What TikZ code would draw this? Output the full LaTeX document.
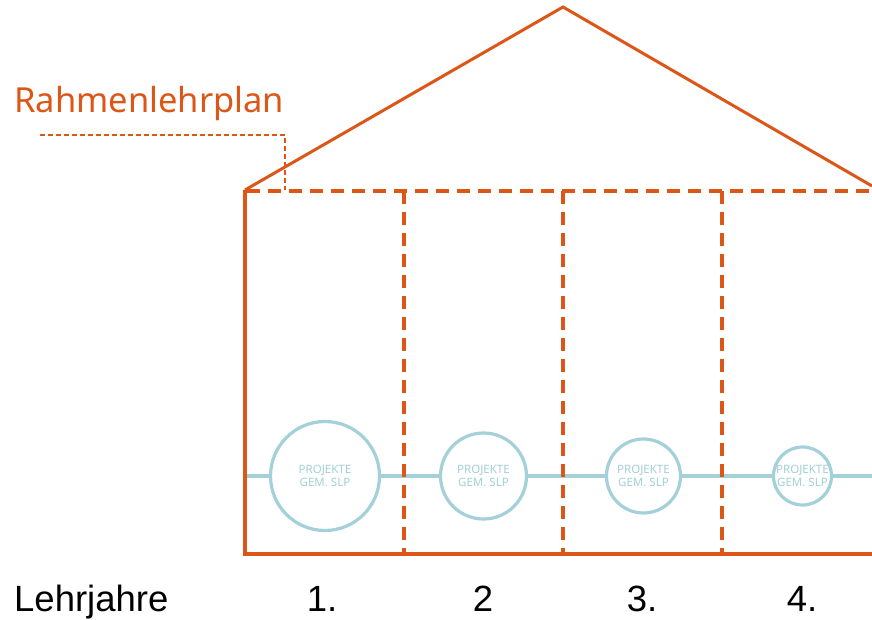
\documentclass[tikz,border=0pt]{standalone}
\usepackage{fontspec}
\setmainfont{Noto Sans}
\newfontfamily\labelfont{Liberation Sans}
\definecolor{houseorange}{HTML}{DC5617}
\definecolor{projblue}{HTML}{A3D0D9}
\begin{document}
\begin{tikzpicture}[x=1pt,y=-1pt,
  wall/.style={draw=houseorange,line width=3.2pt,line cap=butt},
  roofline/.style={draw=houseorange,line width=3pt,line join=miter},
  split/.style={draw=houseorange,line width=3.2pt,dash pattern=on 13pt off 8pt},
  leader/.style={draw=houseorange,line width=1.4pt,dash pattern=on 5pt off 3pt},
  track/.style={draw=projblue,line width=3.2pt},
  project/.style={circle,draw=projblue,line width=3.2pt,fill=white,inner sep=0pt,
    align=center,text=projblue,font=\fontsize{11.5}{13.5}\selectfont},
  year/.style={font=\labelfont\fontsize{36.5}{40}\selectfont,anchor=base}]
\useasboundingbox (0,0) rectangle (872,620);

% roof
\coordinate (eaveL) at (245,190);
\coordinate (apex) at (563,7);
\coordinate (eaveR) at (872,186);
\draw[roofline] (eaveL) -- (apex) -- (eaveR);

% project track with circles
\coordinate (trackL) at (245,476);
\coordinate (trackR) at (872,476);
\node[project,minimum size=109pt] (p1) at (325,476) {PROJEKTE\\GEM. SLP};
\node[project,minimum size=86pt] (p2) at (483.5,476) {PROJEKTE\\GEM. SLP};
\node[project,minimum size=74pt] (p3) at (643.5,476) {PROJEKTE\\GEM. SLP};
\node[project,minimum size=58pt] (p4) at (802.5,476) {PROJEKTE\\GEM. SLP};
\draw[track] (trackL) -- (p1) -- (p2) -- (p3) -- (p4) -- (trackR);

% walls and floor
\coordinate (floorL) at (245,554);
\coordinate (floorR) at (872,554);
\draw[wall] (eaveL) -- (floorL);
\draw[wall] ([xshift=-1.6pt]floorL) -- (floorR);

% dashed ceiling and year dividers
\coordinate (ceilR) at (872,191);
\draw[split] (eaveL) ++(1.6,1) -- (ceilR);
\foreach \x/\n in {404/a,563/b,722/c}{
  \coordinate (top\n) at (\x,191);
  \coordinate (bot\n) at (\x,552);
  \draw[split] (top\n) -- (bot\n);
}

% label with leader
\node[font=\fontsize{34.5}{38}\selectfont,text=houseorange,anchor=base west,inner sep=0pt] (rlp) at (14,113) {Rahmenlehrplan};
\coordinate (leadA) at (40,135);
\coordinate (leadB) at (285,135);
\coordinate (leadC) at (285,190);
\draw[leader] (leadA) -- (leadB) -- (leadC);

% years
\node[year,anchor=base west,inner sep=0pt] (lj) at (14,611) {Lehrjahre};
\node[year] (y1) at (322,611) {1.};
\node[year] (y2) at (483,611) {2};
\node[year] (y3) at (642,611) {3.};
\node[year] (y4) at (802,611) {4.};
\end{tikzpicture}
\end{document}
